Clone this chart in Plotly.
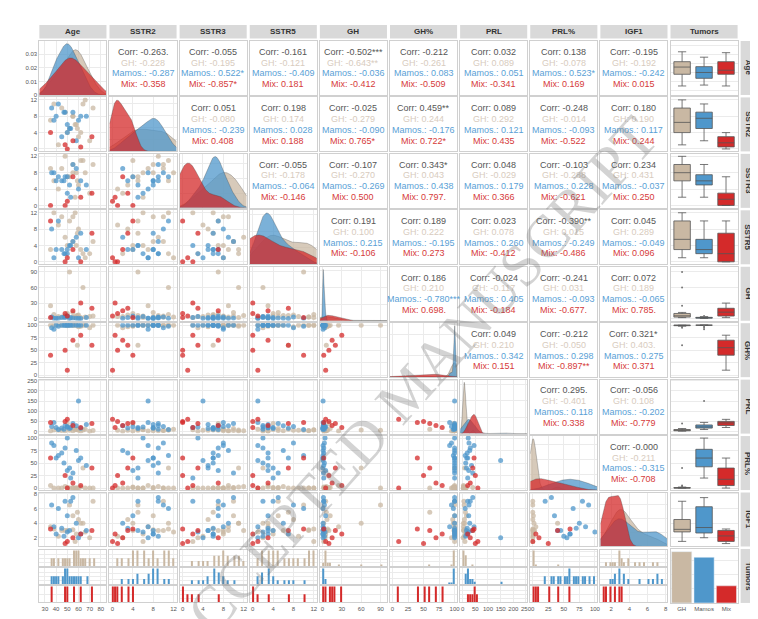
import numpy as np
import plotly.graph_objects as go

variables = ["Age", "SSTR2", "SSTR3", "SSTR5", "GH", "GH%", "PRL", "PRL%", "IGF1"]
groups = ["GH", "Mamos.", "Mix"]
group_labels = ["GH", "Mamos", "Mix"]
colors = {"GH": "#C9B8A3", "Mamos.": "#4F97CB", "Mix": "#D42A2A"}
text_colors = {"GH": "#D8CBBE", "Mamos.": "#5A9FD6", "Mix": "#D63A3A"}

gh_data = {
    "Age": [45, 58, 62, 38, 55, 70, 52, 48, 66, 60, 35, 57, 73, 50, 42, 64, 55, 59],
    "SSTR2": [10, 6, 4, 11, 8, 2, 5, 9, 12, 3, 7, 6, 10, 4, 1, 11, 8, 5],
    "SSTR3": [9, 8, 11, 6, 10, 3, 7, 12, 8, 5, 9, 2, 10, 7, 4, 11, 8, 6],
    "SSTR5": [11, 4, 3, 12, 5, 2, 10, 6, 1, 8, 3, 12, 5, 4, 9, 2, 11, 7],
    "GH": [3, 5, 2, 8, 12, 4, 90, 6, 3, 7, 25, 2, 5, 10, 4, 60, 3, 6],
    "GH%": [100, 100, 98, 100, 100, 95, 100, 100, 100, 97, 100, 100, 100, 99, 100, 100, 100, 60],
    "PRL": [5, 10, 3, 8, 15, 2, 6, 4, 12, 7, 3, 9, 5, 40, 6, 8, 4, 11],
    "PRL%": [0, 0, 2, 0, 1, 0, 0, 3, 0, 0, 5, 0, 0, 1, 0, 40, 0, 0],
    "IGF1": [3, 2.5, 4, 3.2, 5, 2, 6.5, 3, 2.8, 4.5, 3.5, 1.5, 7, 3, 2.2, 4, 3.1, 5.5],
}
mamos_data = {
    "Age": [40, 48, 52, 36, 60, 45, 55, 50, 42, 67, 58, 47, 53, 38, 62, 50],
    "SSTR2": [8, 9, 5, 10, 7, 3, 9, 6, 11, 8, 2, 9, 5, 7, 8, 4],
    "SSTR3": [6, 7, 5, 8, 4, 6, 10, 3, 7, 5, 9, 6, 2, 8, 6, 7],
    "SSTR5": [3, 2, 4, 8, 1, 3, 5, 2, 10, 3, 6, 2, 4, 1, 7, 3],
    "GH": [1, 2, 0.5, 3, 1, 2, 1.5, 4, 0.8, 2, 1, 3, 2, 1, 0.5, 5],
    "GH%": [100, 100, 100, 95, 100, 100, 100, 100, 98, 100, 100, 100, 100, 92, 100, 100],
    "PRL": [20, 30, 15, 25, 150, 18, 40, 22, 10, 35, 28, 12, 20, 45, 16, 24],
    "PRL%": [60, 80, 40, 90, 55, 70, 30, 100, 65, 45, 75, 50, 20, 85, 60, 35],
    "IGF1": [2.5, 7, 3, 6.5, 2, 3.3, 7.5, 2.8, 6, 3, 4, 2.2, 7, 3.5, 2.5, 5],
}
mix_data = {
    "Age": [48, 72, 50, 55, 35, 62],
    "SSTR2": [1, 3, 0, 2, 4, 0.5],
    "SSTR3": [0, 3, 1, 7, 0, 2],
    "SSTR5": [0, 7, 1, 3, 10, 0],
    "GH": [10, 20, 5, 15, 2, 30],
    "GH%": [50, 60, 10, 70, 40, 80],
    "PRL": [50, 40, 60, 30, 45, 20],
    "PRL%": [25, 40, 0, 10, 60, 5],
    "IGF1": [1.2, 3, 1.5, 2, 3.2, 2.5],
}
data = {"GH": gh_data, "Mamos.": mamos_data, "Mix": mix_data}

# correlation labels (upper triangle), keyed by (row, col)
corr_text = {
    (0, 1): ["-0.263.", "-0.228", "-0.287", "-0.358"],
    (0, 2): ["-0.055", "-0.195", "0.522*", "-0.857*"],
    (0, 3): ["-0.161", "-0.121", "-0.409", "0.181"],
    (0, 4): ["-0.502***", "-0.643**", "-0.036", "-0.412"],
    (0, 5): ["-0.212", "-0.261", "0.083", "-0.509"],
    (0, 6): ["0.032", "0.089", "0.051", "-0.341"],
    (0, 7): ["0.138", "-0.078", "0.523*", "0.169"],
    (0, 8): ["-0.195", "-0.192", "-0.242", "0.015"],
    (1, 2): ["0.051", "-0.080", "-0.239", "0.408"],
    (1, 3): ["0.198", "0.174", "0.028", "0.188"],
    (1, 4): ["-0.025", "-0.279", "-0.090", "0.765*"],
    (1, 5): ["0.459**", "0.244", "-0.176", "0.722*"],
    (1, 6): ["0.089", "0.292", "0.121", "0.435"],
    (1, 7): ["-0.248", "-0.014", "-0.093", "-0.522"],
    (1, 8): ["0.180", "0.190", "0.117", "0.244"],
    (2, 3): ["-0.055", "-0.178", "-0.064", "-0.146"],
    (2, 4): ["-0.107", "-0.270", "-0.269", "0.500"],
    (2, 5): ["0.343*", "0.043", "0.438", "0.797."],
    (2, 6): ["0.048", "-0.029", "0.179", "0.366"],
    (2, 7): ["-0.103", "-0.288", "0.228", "-0.621"],
    (2, 8): ["0.234", "0.431", "-0.037", "0.250"],
    (3, 4): ["0.191", "0.100", "0.215", "-0.106"],
    (3, 5): ["0.189", "0.222", "-0.195", "0.273"],
    (3, 6): ["0.023", "0.078", "0.260", "-0.412"],
    (3, 7): ["-0.390**", "0.015", "-0.249", "-0.486"],
    (3, 8): ["0.045", "0.289", "-0.049", "0.096"],
    (4, 5): ["0.186", "0.210", "-0.780***", "0.698."],
    (4, 6): ["-0.024", "-0.117", "0.405", "-0.184"],
    (4, 7): ["-0.241", "0.031", "-0.093", "-0.677."],
    (4, 8): ["0.072", "0.189", "-0.065", "0.785."],
    (5, 6): ["0.049", "0.210", "0.342", "0.151"],
    (5, 7): ["-0.212", "-0.050", "0.298", "-0.897**"],
    (5, 8): ["0.321*", "0.403.", "0.275", "0.371"],
    (6, 7): ["0.295.", "-0.401", "0.118", "0.338"],
    (6, 8): ["-0.056", "0.108", "-0.202", "-0.779"],
    (7, 8): ["-0.000", "-0.211", "-0.315", "-0.708"],
}

ranges = {
    "Age": [25, 85], "SSTR2": [-0.6, 12.6], "SSTR3": [-0.6, 12.6], "SSTR5": [-0.6, 12.6],
    "GH": [-4, 100], "GH%": [-4, 104], "PRL": [-10, 255], "PRL%": [-4, 104], "IGF1": [0.8, 8.2],
}
ticks = {
    "Age": [30, 40, 50, 60, 70, 80], "SSTR2": [0, 4, 8, 12], "SSTR3": [0, 4, 8, 12],
    "SSTR5": [0, 4, 8, 12], "GH": [0, 30, 60, 90], "GH%": [0, 25, 50, 75, 100],
    "PRL": [0, 50, 100, 150, 200, 250], "PRL%": [0, 25, 50, 75, 100], "IGF1": [2, 4, 6, 8],
}
all_names = variables + ["Tumors"]
N = len(all_names)

L, R, T, B = 30, 23, 30, 20
W, H = 758, 619
x0, x1 = L / W, 1 - R / W
y0, y1 = B / H, 1 - T / H
gap = 0.004
cw = (x1 - x0) / N
ch = (y1 - y0) / N


def xdom(c):
    return [x0 + c * cw + gap / 2, x0 + (c + 1) * cw - gap / 2]


def ydom(r):
    top = y1 - r * ch
    return [top - ch + gap / 2, top - gap / 2]


fig = go.Figure()
layout = {}
counter = [0]
tickfont = dict(size=6, color="#555", family="Liberation Sans")


def new_axes(xd, yd, xargs=None, yargs=None):
    counter[0] += 1
    n = counter[0]
    s = "" if n == 1 else str(n)
    base = dict(showline=True, mirror=True, linecolor="#D0D0D0", linewidth=1,
                gridcolor="#EBEBEB", zeroline=False, ticks="", showticklabels=False,
                tickfont=tickfont, tickangle=0)
    xa = dict(base, domain=xd, anchor="y" + s)
    ya = dict(base, domain=yd, anchor="x" + s)
    if xargs:
        xa.update(xargs)
    if yargs:
        ya.update(yargs)
    layout["xaxis" + s] = xa
    layout["yaxis" + s] = ya
    return "x" + s, "y" + s


def kde(vals, grid):
    v = np.asarray(vals, float)
    bw = 1.06 * v.std() * len(v) ** -0.2
    bw = max(bw, 1e-3)
    d = np.exp(-0.5 * ((grid[:, None] - v[None, :]) / bw) ** 2).sum(1)
    return d / (len(v) * bw * np.sqrt(2 * np.pi))


def rgba(hexc, a):
    h = hexc.lstrip("#")
    return "rgba(%d,%d,%d,%s)" % (int(h[0:2], 16), int(h[2:4], 16), int(h[4:6], 16), a)


annotations = []
shapes = []

for r in range(N):
    for c in range(N):
        rn, cn = all_names[r], all_names[c]
        xd, yd = xdom(c), ydom(r)
        left = c == 0
        if r < c and c < N - 1:
            xa, ya = new_axes(xd, yd, dict(showgrid=False, range=[0, 1]),
                              dict(showgrid=False, range=[0, 1]))
            fig.add_trace(go.Scatter(x=[0.5], y=[0.5], mode="markers", marker=dict(opacity=0),
                                     hoverinfo="skip", showlegend=False, xaxis=xa, yaxis=ya))
            vals = corr_text[(r, c)]
            labels = ["Corr: ", "GH: ", "Mamos.: ", "Mix: "]
            cols = ["#555555", text_colors["GH"], text_colors["Mamos."], text_colors["Mix"]]
            for k in range(4):
                annotations.append(dict(
                    x=(xd[0] + xd[1]) / 2, y=yd[1] - (yd[1] - yd[0]) * (0.2 + 0.2 * k),
                    xref="paper", yref="paper", text=labels[k] + vals[k], showarrow=False,
                    xanchor="center", yanchor="middle",
                    font=dict(size=9, color=cols[k], family="Liberation Sans")))
        elif r == c and r < N - 1:
            grid = np.linspace(ranges[cn][0], ranges[cn][1], 200)
            xa, ya = new_axes(xd, yd, dict(range=ranges[cn], tickvals=ticks[cn]),
                              dict(showticklabels=left, rangemode="tozero"))
            for g in groups:
                dens = kde(data[g][cn], grid)
                fig.add_trace(go.Scatter(x=grid, y=dens, mode="lines", fill="tozeroy",
                                         line=dict(color=rgba("#444444", 0.5), width=0.6),
                                         fillcolor=rgba(colors[g], 0.75), showlegend=False,
                                         xaxis=xa, yaxis=ya, hoverinfo="skip"))
        elif r == N - 1 and c == N - 1:
            xa, ya = new_axes(xd, yd, dict(showticklabels=True, showgrid=False),
                              dict(showgrid=True))
            counts = [len(data[g]["Age"]) for g in groups]
            fig.add_trace(go.Bar(x=group_labels, y=counts, marker=dict(color=[colors[g] for g in groups]),
                                 width=0.9, showlegend=False, xaxis=xa, yaxis=ya))
        elif c == N - 1:
            xa, ya = new_axes(xd, yd, dict(showgrid=False),
                              dict(range=ranges[rn], tickvals=ticks[rn]))
            for g, gl in zip(groups, group_labels):
                fig.add_trace(go.Box(x=[gl] * len(data[g][rn]), y=data[g][rn], name=gl,
                                     fillcolor=colors[g], line=dict(color="#555555", width=0.8),
                                     marker=dict(size=2, color="#777"), boxpoints="outliers",
                                     showlegend=False, xaxis=xa, yaxis=ya, width=0.75))
        elif r == N - 1:
            sub_h = (yd[1] - yd[0]) / 3
            for k, g in enumerate(groups):
                syd = [yd[1] - (k + 1) * sub_h + 0.001, yd[1] - k * sub_h - 0.001]
                xa, ya = new_axes(xd, syd,
                                  dict(range=ranges[cn], tickvals=ticks[cn], showticklabels=(k == 2)),
                                  dict(showticklabels=False))
                span = ranges[cn][1] - ranges[cn][0]
                fig.add_trace(go.Histogram(x=data[g][cn], marker=dict(color=colors[g]),
                                           xbins=dict(start=ranges[cn][0], end=ranges[cn][1], size=span / 30),
                                           showlegend=False, xaxis=xa, yaxis=ya))
        else:
            xa, ya = new_axes(xd, yd, dict(range=ranges[cn], tickvals=ticks[cn]),
                              dict(range=ranges[rn], tickvals=ticks[rn], showticklabels=left))
            for g in groups:
                fig.add_trace(go.Scatter(x=data[g][cn], y=data[g][rn], mode="markers",
                                         marker=dict(color=colors[g], size=5, opacity=0.75),
                                         showlegend=False, xaxis=xa, yaxis=ya))

# strips
for c in range(N):
    xd = xdom(c)
    shapes.append(dict(type="rect", xref="paper", yref="paper", x0=xd[0], x1=xd[1],
                       y0=y1 + 0.002, y1=y1 + 0.024, fillcolor="#D9D9D9", line=dict(width=0)))
    annotations.append(dict(x=(xd[0] + xd[1]) / 2, y=y1 + 0.013, xref="paper", yref="paper",
                            text="<b>%s</b>" % all_names[c], showarrow=False,
                            xanchor="center", yanchor="middle",
                            font=dict(size=8, color="#333", family="Liberation Sans")))
for r in range(N):
    yd = ydom(r)
    shapes.append(dict(type="rect", xref="paper", yref="paper", x0=x1 + 0.002, x1=x1 + 0.022,
                       y0=yd[0], y1=yd[1], fillcolor="#D9D9D9", line=dict(width=0)))
    annotations.append(dict(x=x1 + 0.012, y=(yd[0] + yd[1]) / 2, xref="paper", yref="paper",
                            text="<b>%s</b>" % all_names[r], showarrow=False, textangle=90,
                            xanchor="center", yanchor="middle",
                            font=dict(size=8, color="#333", family="Liberation Sans")))

annotations.append(dict(x=0.53, y=0.38, xref="paper", yref="paper", text="ACCEPTED MANUSCRIPT",
                        showarrow=False, textangle=-48, xanchor="center", yanchor="middle",
                        font=dict(size=60, color="rgba(110,110,110,0.3)", family="Liberation Serif")))

fig.update_layout(**layout)
fig.update_layout(width=W, height=H, margin=dict(l=0, r=0, t=0, b=0),
                  paper_bgcolor="white", plot_bgcolor="white", showlegend=False,
                  annotations=annotations, shapes=shapes, bargap=0.1)
fig.write_html("out.html")
